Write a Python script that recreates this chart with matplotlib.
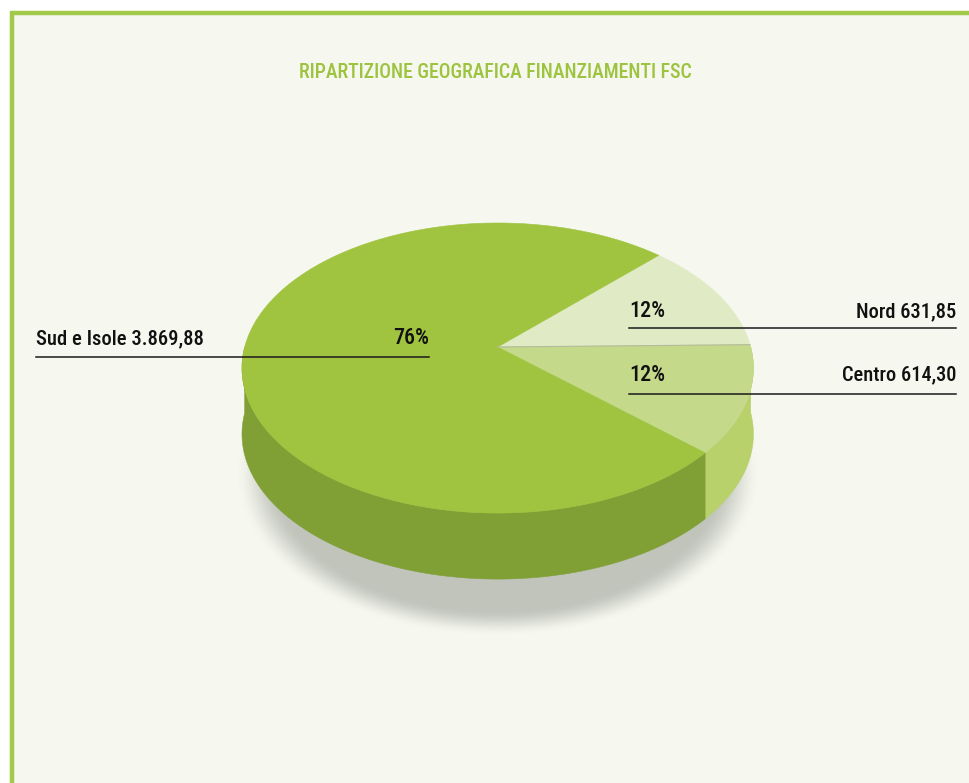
"""Torta 3D: ripartizione geografica finanziamenti FSC."""

import matplotlib
matplotlib.use("Agg")
import matplotlib.pyplot as plt
from matplotlib import font_manager
from matplotlib.patches import Polygon, Rectangle
import numpy as np

# dati
regioni = ["Nord", "Centro", "Sud e Isole"]
importi = [631.85, 614.30, 3869.88]
titolo = "RIPARTIZIONE GEOGRAFICA FINANZIAMENTI FSC"

# colori
C_BG = "#f6f7ef"
C_BORDER = "#a3c94a"
C_TITLE = "#9dc43f"
C_TOP = ["#e0ebc5", "#c5d98a", "#a0c43f"]
C_SIDE = ["#cfe0a0", "#b8d16b", "#80a035"]

W, H = 969, 783
names = {f.name for f in font_manager.fontManager.ttflist}
FONT = next((n for n in ["Roboto Condensed", "Liberation Sans Narrow", "Roboto"] if n in names), "DejaVu Sans")
plt.rcParams["font.family"] = [FONT, "DejaVu Sans"]

# geometria (pixel) della torta in prospettiva
CX, CY = 497.7, 347.0
A, B, K = 253.0, 142.0, 0.145
D = 66.0
START = 45.4  # gradi, poi in senso orario


def proj(t_deg, drop=0.0):
    t = np.radians(t_deg)
    u, v = np.cos(t), np.sin(t)
    w = 1 + K * v
    return CX + A * u / w, CY - B * v / w + drop


def fmt_it(x):
    s = f"{x:,.2f}"
    return s.replace(",", "X").replace(".", ",").replace("X", ".")


fig = plt.figure(figsize=(W / 100, H / 100), dpi=100, facecolor="white")
ax = fig.add_axes([0, 0, 1, 1])
ax.set_xlim(0, W)
ax.set_ylim(H, 0)
ax.axis("off")
renderer = fig.canvas.get_renderer()


def fit_text(x, y, s, target_w, **kw):
    t = ax.text(x, y, s, fontsize=12, va="baseline", zorder=6, **kw)
    w = t.get_window_extent(renderer).width
    t.set_fontsize(12 * target_w / w)
    return t


ax.add_patch(Rectangle((10, 11), W - 10, H - 11, facecolor=C_BG, edgecolor="none", zorder=0))
ax.plot([10, W], [12.5, 12.5], color=C_BORDER, lw=3.2, solid_capstyle="butt", zorder=1)
ax.plot([11.8, 11.8], [11, H], color=C_BORDER, lw=3.2, solid_capstyle="butt", zorder=1)

# ombra sfumata sotto la torta
xs = np.arange(200, 800) + 0.5
ys = np.arange(380, 670) + 0.5
gx, gy = np.meshgrid(xs, ys)
r = np.sqrt(((gx - 497.7) / 262.0) ** 2 + ((gy - 474.0) / 162.0) ** 2)
s = np.clip((r - 0.84) / (1.0 - 0.84), 0, 1)
alpha = 1 - s * s * (3 - 2 * s)
img = np.zeros(gx.shape + (4,))
img[..., 0], img[..., 1], img[..., 2] = 0.755, 0.77, 0.735
img[..., 3] = alpha
ax.imshow(img, extent=(200, 800, 670, 380), origin="upper", interpolation="bilinear", zorder=2)

# angoli delle fette
vals = np.array(importi)
frac = vals / vals.sum()
edges = START - 360 * np.concatenate([[0], np.cumsum(frac)])

# pareti laterali (parte frontale visibile, 180..360 gradi)
for i in range(len(vals)):
    a_hi, a_lo = edges[i], edges[i + 1]
    for shift in (0, -360, 360):
        lo = max(a_lo + shift, -180)
        hi = min(a_hi + shift, 0)
        if hi <= lo:
            continue
        t = np.linspace(lo, hi, 120)
        x1, y1 = proj(t)
        x2, y2 = proj(t[::-1], D)
        pts = np.column_stack([np.r_[x1, x2], np.r_[y1, y2]])
        ax.add_patch(Polygon(pts, closed=True, facecolor=C_SIDE[i], edgecolor=C_SIDE[i], lw=0.4, zorder=3))

# facce superiori
for i in range(len(vals)):
    t = np.linspace(edges[i + 1], edges[i], 200)
    x, y = proj(t)
    pts = np.column_stack([np.r_[CX, x], np.r_[CY, y]])
    ax.add_patch(Polygon(pts, closed=True, facecolor=C_TOP[i], edgecolor=C_TOP[i], lw=0.4, zorder=4))
# sottile separazione Nord/Centro
xe, ye = proj(edges[1])
ax.plot([CX, xe], [CY, ye], color="#b3bc9c", lw=0.8, zorder=5)

fit_text(495.5, 78.3, titolo, 393, color=C_TITLE, ha="center", fontweight="medium")

# etichette: (x sinistra, x destra, baseline, linea, larghezza nome)
lab_pos = {
    "Nord": (629, 956, 317.3, 328.3, 100),
    "Centro": (629, 956, 380.7, 394.0, 114),
    "Sud e Isole": (36, 429, 344.0, 357.3, 167),
}
pct = [f"{round(f * 100):.0f}%" for f in frac]
for i, reg in enumerate(regioni):
    xl, xr, yb, yl, wn = lab_pos[reg]
    nome = f"{reg} {fmt_it(importi[i])}"
    kw = dict(color="#111111", fontweight="medium")
    if reg == "Sud e Isole":
        fit_text(xl, yb, nome, wn, ha="left", **kw)
        fit_text(xr, yb, pct[i], 36, ha="right", **kw)
    else:
        fit_text(xl, yb, pct[i], 36, ha="left", **kw)
        fit_text(xr, yb, nome, wn, ha="right", **kw)
    ax.plot([xl, xr], [yl, yl], color="#1a1a1a", lw=1.1, zorder=6)

fig.savefig("out.png", dpi=100, facecolor="white")
plt.close(fig)
